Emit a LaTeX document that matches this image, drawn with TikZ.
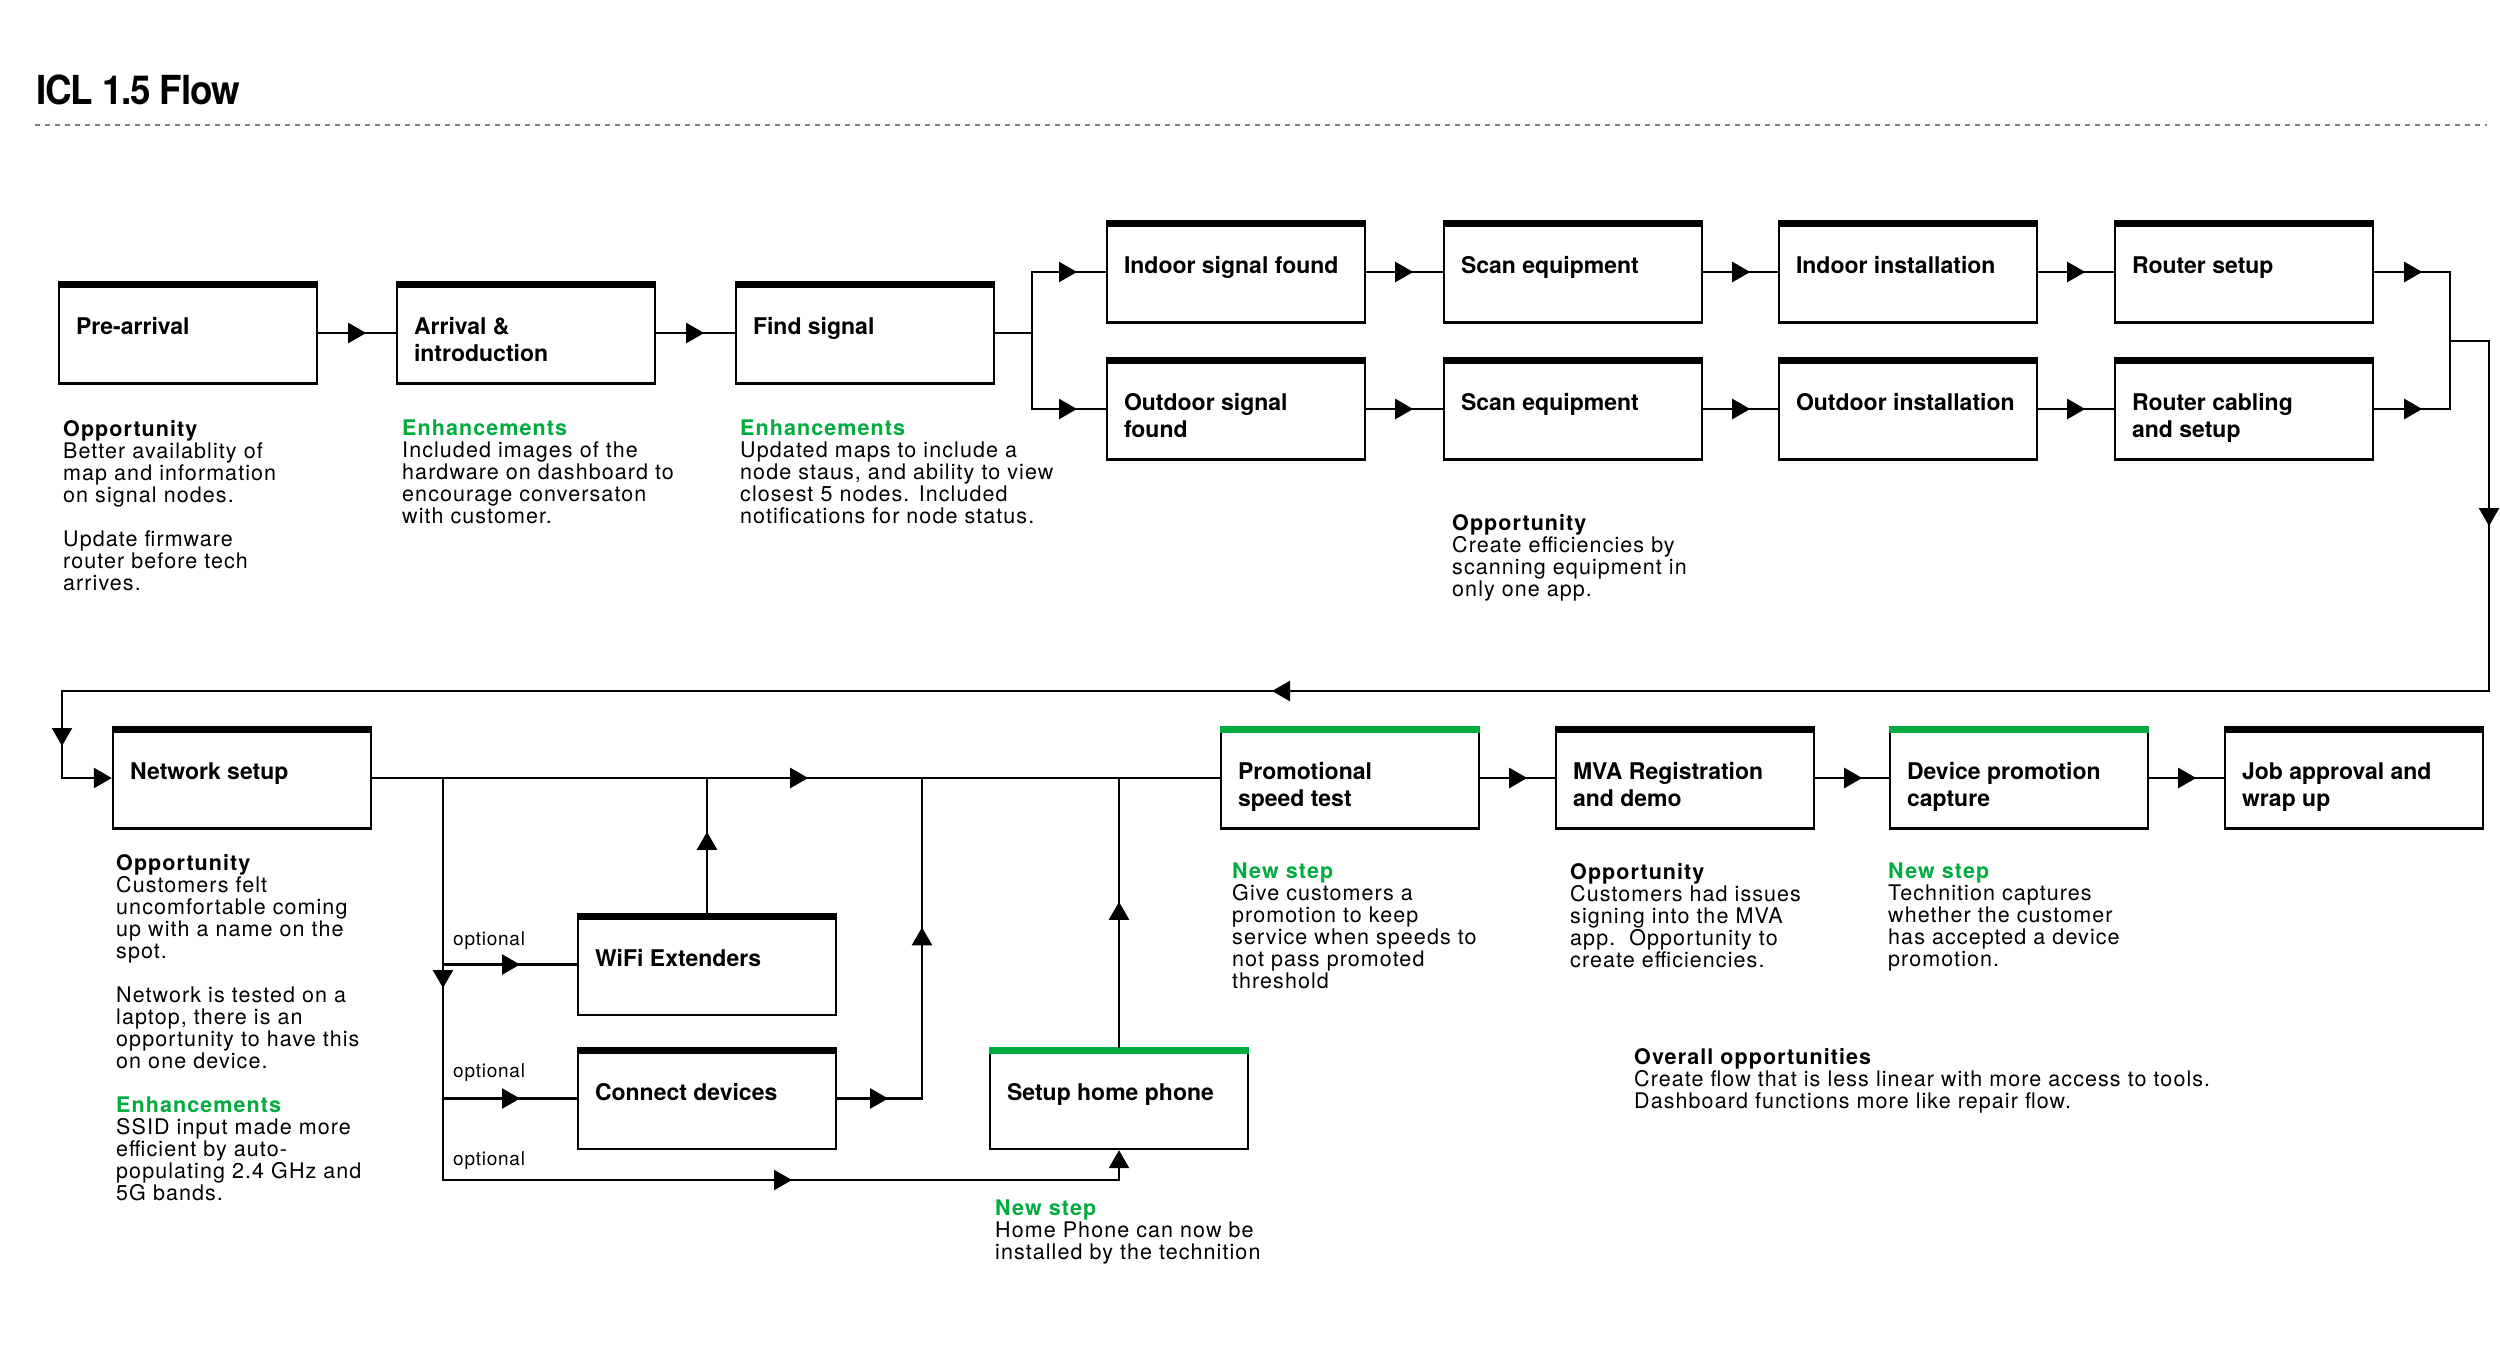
\documentclass[tikz,border=0pt]{standalone}
\usepackage{fontspec}
\usetikzlibrary{arrows.meta,decorations.markings}
\newfontfamily\lblfont{TeX Gyre Heros}
\newfontfamily\notefont[LetterSpace=5]{TeX Gyre Heros}
\newfontfamily\optfont[LetterSpace=4]{TeX Gyre Heros}
\newfontfamily\ttlfont[FakeStretch=0.92,LetterSpace=-3]{TeX Gyre Heros}
\definecolor{vzgreen}{HTML}{00AC3E}
\newcommand{\bx}[1]{\parbox[c][101pt][t]{224pt}{\raggedright\rule{0pt}{52pt}#1}}
\newcommand{\grn}[1]{{\color{vzgreen}\bfseries #1}}
\tikzset{
  tri/.tip={Triangle[length=18pt,width=20pt]},
  box/.style={draw, line width=2.3pt, fill=white, minimum width=258pt, minimum height=101pt,
    inner sep=0pt, font=\lblfont\bfseries\fontsize{23}{27}\selectfont},
  flow/.style={line width=2.5pt, line cap=rect},
  tipat/.style={postaction={decorate},decoration={markings,mark=at position #1 with {\arrow{tri}}}},
  note/.style={anchor=north west, inner sep=0pt, align=left,
    font=\notefont\fontsize{21.5}{22}\selectfont, execute at begin node={\rule{0pt}{16pt}}},
  opt/.style={anchor=base west, inner sep=0pt, font=\optfont\fontsize{19}{21}\selectfont},
}
\begin{document}
\begin{tikzpicture}[x=1pt,y=-1pt]
\fill[white] (0,0) rectangle (2500,1344);
\useasboundingbox (0,0) rectangle (2500,1344);

% title
\node[anchor=base west, inner sep=0pt, font=\ttlfont\bfseries\fontsize{40}{40}\selectfont] (title) at (36,104) {ICL 1.5 Flow};
\coordinate (dl) at (35,125);
\coordinate (dr) at (2487,125);
\draw[black!50, line width=2pt, dash pattern=on 5pt off 5pt] (dl) -- (dr);

% boxes
\node[box] (pre) at (188,333) {\bx{Pre-arrival}};
\node[box] (arr) at (526,333) {\bx{Arrival \&\\introduction}};
\node[box] (find) at (865,333) {\bx{Find signal}};
\node[box] (inA) at (1236,272) {\bx{Indoor signal found}};
\node[box] (scanA) at (1573,272) {\bx{Scan equipment}};
\node[box] (instA) at (1908,272) {\bx{Indoor installation}};
\node[box] (routA) at (2244,272) {\bx{Router setup}};
\node[box] (inB) at (1236,409) {\bx{Outdoor signal\\found}};
\node[box] (scanB) at (1573,409) {\bx{Scan equipment}};
\node[box] (instB) at (1908,409) {\bx{Outdoor installation}};
\node[box] (routB) at (2244,409) {\bx{Router cabling\\and setup}};
\node[box] (net) at (242,778) {\bx{Network setup}};
\node[box] (promo) at (1350,778) {\bx{Promotional\\speed test}};
\node[box] (mva) at (1685,778) {\bx{MVA Registration\\and demo}};
\node[box] (device) at (2019,778) {\bx{Device promotion\\capture}};
\node[box] (job) at (2354,778) {\bx{Job approval and\\wrap up}};
\node[box] (wifi) at (707,964.5) {\bx{WiFi Extenders}};
\node[box] (conn) at (707,1098.5) {\bx{Connect devices}};
\node[box] (phone) at (1119,1098.5) {\bx{Setup home phone}};

% top bars
\foreach \n in {pre,arr,find,inA,scanA,instA,routA,inB,scanB,instB,routB,net,mva,job,wifi,conn}
  \fill[black] (\n.north west) rectangle ([yshift=-7pt]\n.north east);
\foreach \n in {promo,device,phone}
  \fill[vzgreen] (\n.north west) rectangle ([yshift=-7pt]\n.north east);

% top connectors
\draw[flow,tipat=48pt] (pre.east) -- (arr.west);
\draw[flow,tipat=48pt] (arr.east) -- (find.west);
\coordinate (jL) at (1032,333);
\draw[flow] (find.east) -- (jL);
\draw[flow] (jL |- inA.west) -- (jL |- inB.west);
\draw[flow,tipat=45pt] (jL |- inA.west) -- (inA.west);
\draw[flow,tipat=45pt] (jL |- inB.west) -- (inB.west);
\draw[flow,tipat=47pt] (inA.east) -- (scanA.west);
\draw[flow,tipat=47pt] (scanA.east) -- (instA.west);
\draw[flow,tipat=47pt] (instA.east) -- (routA.west);
\draw[flow,tipat=47pt] (inB.east) -- (scanB.west);
\draw[flow,tipat=47pt] (scanB.east) -- (instB.west);
\draw[flow,tipat=47pt] (instB.east) -- (routB.west);
\coordinate (jR) at (2450,341);
\draw[flow,tipat=48pt] (routA.east) -- (jR |- routA.east);
\draw[flow,tipat=48pt] (routB.east) -- (jR |- routB.east);
\draw[flow] (jR |- routA.east) -- (jR |- routB.east);
\coordinate (cR1) at (2489,341);
\coordinate (cR2) at (2489,691);
\coordinate (cL) at (62,691);
\draw[flow,-{tri},postaction={decorate},decoration={markings,
   mark=at position 224pt with {\arrow{tri}},
   mark=at position 1606pt with {\arrow{tri}},
   mark=at position 2871pt with {\arrow{tri}}}]
  (jR) -- (cR1) -- (cR2) -- (cL) |- (net.west);

% bottom connectors
\draw[flow,tipat=436pt] (net.east) -- (promo.west);
\draw[flow,tipat=47pt] (promo.east) -- (mva.west);
\draw[flow,tipat=47pt] (mva.east) -- (device.west);
\draw[flow,tipat=47pt] (device.east) -- (job.west);
\coordinate (bA) at (443,778);
\coordinate (bB) at (443,1180);
\draw[flow,tipat=210pt] (bA) -- (bB);
\draw[flow,tipat=77pt] (bA |- wifi.west) -- (wifi.west);
\draw[flow,tipat=77pt] (bA |- conn.west) -- (conn.west);
\draw[flow,-{tri},tipat=349pt] (bB) -- (bB -| phone.south) -- (phone.south);
\draw[flow,tipat=81pt] (wifi.north) -- (wifi.north |- net.east);
\coordinate (cU) at (922,1098.5);
\draw[flow,postaction={decorate},decoration={markings,
   mark=at position 51pt with {\arrow{tri}},
   mark=at position 256pt with {\arrow{tri}}}]
  (conn.east) -- (cU) -- (cU |- net.east);
\draw[flow,tipat=145pt] (phone.north) -- (phone.north |- net.east);

% optional labels
\node[opt] (o1) at (453,945) {optional};
\node[opt] (o2) at (453,1077) {optional};
\node[opt] (o3) at (453,1165) {optional};

% notes
\node[note] (n1) at (63,420) {\textbf{Opportunity}\\Better availablity of\\map and information\\on signal nodes.\\[22pt]Update firmware\\router before tech\\arrives.};
\node[note] (n2) at (402,420) {\grn{Enhancements}\\Included images of the\\hardware on dashboard to\\encourage conversaton\\with customer.};
\node[note] (n3) at (740,420) {\grn{Enhancements}\\Updated maps to include a\\node staus, and ability to view\\closest 5 nodes. Included\\notifications for node status.};
\node[note] (n4) at (1452,514) {\textbf{Opportunity}\\Create efficiencies by\\scanning equipment in\\only one app.};
\node[note] (n5) at (116,854) {\textbf{Opportunity}\\Customers felt\\uncomfortable coming\\up with a name on the\\spot.\\[22pt]Network is tested on a\\laptop, there is an\\opportunity to have this\\on one device.\\[22pt]\grn{Enhancements}\\SSID input made more\\efficient by auto-\\populating 2.4 GHz and\\5G bands.};
\node[note] (n6) at (1232,863) {\grn{New step}\\Give customers a\\promotion to keep\\service when speeds to\\not pass promoted\\threshold};
\node[note] (n7) at (1570,863) {\textbf{Opportunity}\\Customers had issues\\signing into the MVA\\app.\ \ Opportunity to\\create efficiencies.};
\node[note] (n8) at (1888,863) {\grn{New step}\\Technition captures\\whether the customer\\has accepted a device\\promotion.};
\node[note] (n9) at (1634,1048) {\textbf{Overall opportunities}\\Create flow that is less linear with more access to tools.\\Dashboard functions more like repair flow.};
\node[note] (n10) at (995,1200) {\grn{New step}\\Home Phone can now be\\installed by the technition};
\end{tikzpicture}
\end{document}
